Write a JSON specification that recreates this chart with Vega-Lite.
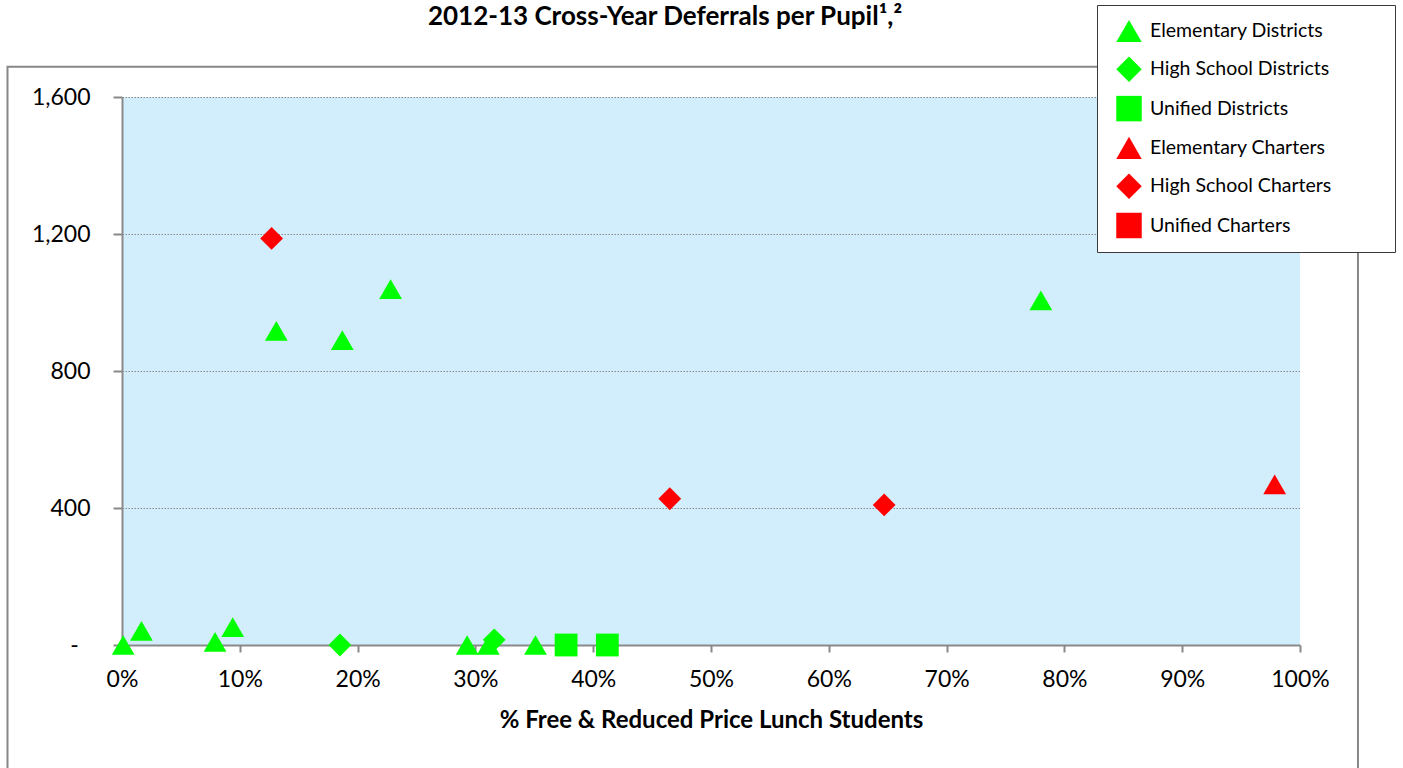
{
  "$schema": "https://vega.github.io/schema/vega-lite/v6.json",
  "width": 1178,
  "height": 548,
  "autosize": "none",
  "padding": {"left": 122, "top": 97, "right": 103, "bottom": 123},
  "background": "white",
  "config": {
    "font": "Lato",
    "view": {"stroke": null, "fill": "#D2EEFC"}
  },
  "title": {
    "text": "2012-13 Cross-Year Deferrals per Pupil¹,²",
    "fontSize": 26,
    "fontWeight": "bold",
    "font": "Lato",
    "color": "black",
    "anchor": "middle",
    "frame": "group",
    "baseline": "alphabetic",
    "dx": -46,
    "offset": -46
  },
  "layer": [
    {
      "data": {"values": [
        {"series": "Elementary Districts", "frpl": 0.001, "deferral": 0},
        {"series": "Elementary Districts", "frpl": 0.0165, "deferral": 41},
        {"series": "Elementary Districts", "frpl": 0.079, "deferral": 9},
        {"series": "Elementary Districts", "frpl": 0.094, "deferral": 52},
        {"series": "Elementary Districts", "frpl": 0.131, "deferral": 917},
        {"series": "Elementary Districts", "frpl": 0.187, "deferral": 890},
        {"series": "Elementary Districts", "frpl": 0.228, "deferral": 1039},
        {"series": "Elementary Districts", "frpl": 0.293, "deferral": 0},
        {"series": "Elementary Districts", "frpl": 0.311, "deferral": 0},
        {"series": "Elementary Districts", "frpl": 0.351, "deferral": 0},
        {"series": "Elementary Districts", "frpl": 0.78, "deferral": 1006},
        {"series": "High School Districts", "frpl": 0.185, "deferral": 0},
        {"series": "High School Districts", "frpl": 0.316, "deferral": 15},
        {"series": "Unified Districts", "frpl": 0.377, "deferral": 0},
        {"series": "Unified Districts", "frpl": 0.412, "deferral": 0},
        {"series": "Elementary Charters", "frpl": 0.9785, "deferral": 469},
        {"series": "High School Charters", "frpl": 0.127, "deferral": 1187},
        {"series": "High School Charters", "frpl": 0.465, "deferral": 427},
        {"series": "High School Charters", "frpl": 0.647, "deferral": 409}
      ]},
      "mark": {"type": "point", "filled": true, "size": 520, "opacity": 1, "strokeWidth": 0},
      "encoding": {
        "x": {
          "field": "frpl",
          "type": "quantitative",
          "scale": {"domain": [0, 1], "nice": false, "zero": false},
          "axis": {
            "title": "% Free & Reduced Price Lunch Students",
            "titleFont": "Lato",
            "titleFontSize": 24,
            "titleFontWeight": "bold",
            "titleColor": "black",
            "titlePadding": 17,
            "values": [0, 0.1, 0.2, 0.3, 0.4, 0.5, 0.6, 0.7, 0.8, 0.9, 1],
            "format": ".0%",
            "labelFont": "Lato",
            "labelFontSize": 23,
            "labelColor": "black",
            "labelPadding": 16,
            "labelFlush": false,
            "labelOverlap": false,
            "grid": false,
            "domainColor": "#898989",
            "domainWidth": 2,
            "tickColor": "#898989",
            "tickWidth": 2,
            "tickSize": 7
          }
        },
        "y": {
          "field": "deferral",
          "type": "quantitative",
          "scale": {"domain": [0, 1600], "nice": false},
          "axis": {
            "title": null,
            "values": [0, 400, 800, 1200, 1600],
            "labelExpr": "datum.value == 0 ? '-\u00a0\u00a0\u200b' : format(datum.value, ',')",
            "labelFont": "Lato",
            "labelFontSize": 23,
            "labelColor": "black",
            "labelPadding": 23,
            "labelFlush": false,
            "labelOverlap": false,
            "grid": true,
            "gridColor": "#8a8a8a",
            "gridDash": [1.5, 1.5],
            "gridWidth": 1,
            "domainColor": "#898989",
            "domainWidth": 2,
            "tickColor": "#898989",
            "tickWidth": 2,
            "tickSize": 9
          }
        },
        "color": {
          "field": "series",
          "type": "nominal",
          "scale": {
            "domain": ["Elementary Districts", "High School Districts", "Unified Districts", "Elementary Charters", "High School Charters", "Unified Charters"],
            "range": ["#00FF00", "#00FF00", "#00FF00", "#FF0000", "#FF0000", "#FF0000"]
          },
          "legend": {
            "title": null,
            "orient": "none",
            "legendX": 975,
            "legendY": -92,
            "strokeColor": "#3a3a3a",
            "fillColor": "white",
            "padding": 13,
            "symbolSize": 650,
            "symbolOffset": 6,
            "symbolStrokeWidth": 0,
            "labelFont": "Lato",
            "labelFontSize": 19.5,
            "labelColor": "black",
            "labelOffset": 8,
            "labelLimit": 400,
            "rowPadding": 13.3,
            "labelExpr": "datum.label + '\u00a0\u00a0\u00a0\u00a0\u00a0\u00a0\u00a0\u00a0\u00a0\u00a0\u200b'",
            "encode": {
              "symbols": {
                "update": {
                  "fill": {"signal": "indexof(datum.value, 'Charters') >= 0 ? '#FF0000' : '#92D050'"}
                }
              }
            }
          }
        },
        "shape": {
          "field": "series",
          "type": "nominal",
          "scale": {
            "domain": ["Elementary Districts", "High School Districts", "Unified Districts", "Elementary Charters", "High School Charters", "Unified Charters"],
            "range": ["triangle-up", "diamond", "square", "triangle-up", "diamond", "square"]
          }
        }
      }
    },
    {
      "data": {"values": [{}]},
      "mark": {"type": "rect", "fillOpacity": 0, "stroke": "#878787", "strokeWidth": 2},
      "encoding": {
        "x": {"datum": -0.0972, "type": "quantitative"},
        "x2": {"datum": 1.0492},
        "y": {"datum": 1688, "type": "quantitative"},
        "y2": {"datum": -600}
      }
    }
  ]
}
